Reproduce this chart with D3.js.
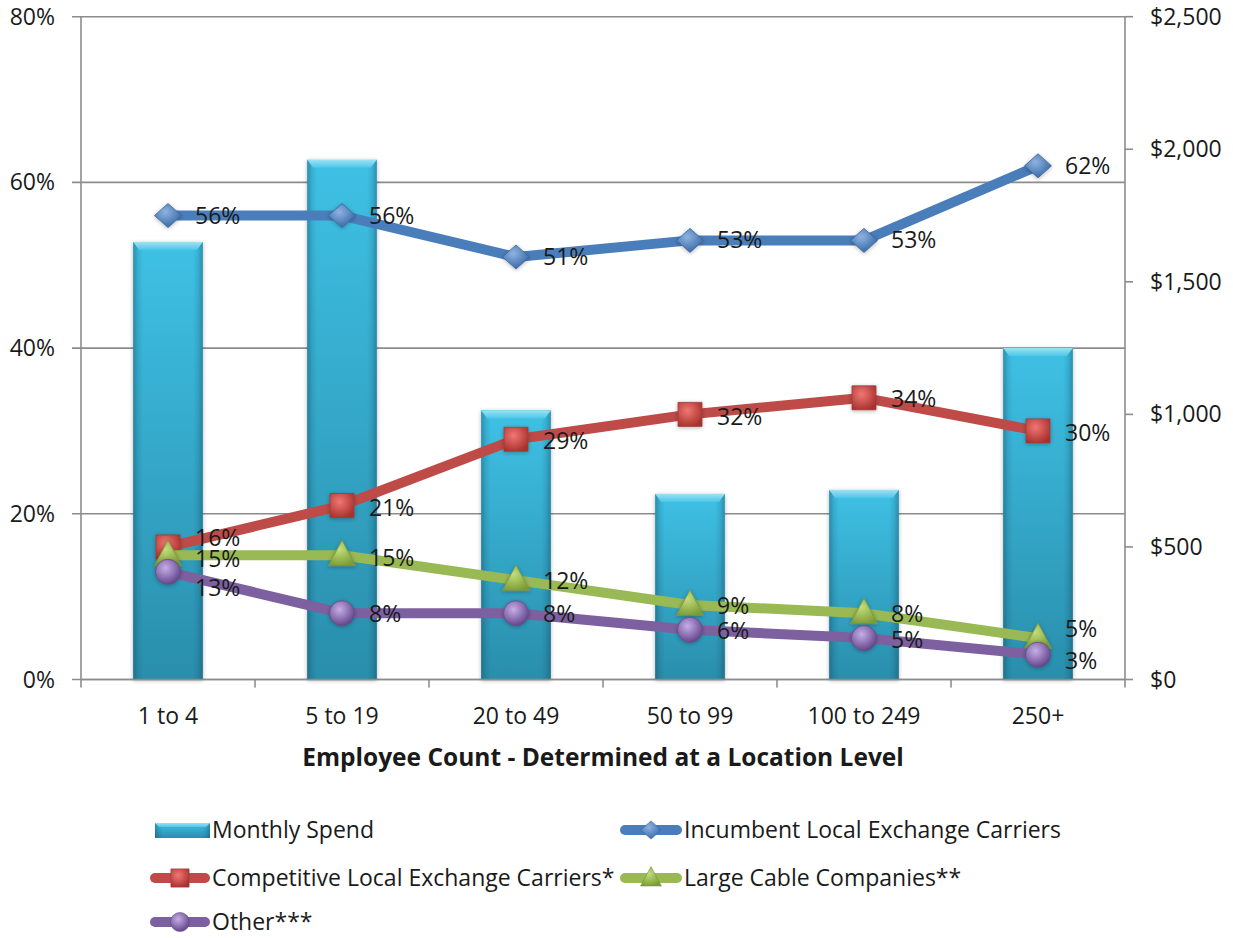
<!DOCTYPE html>
<html>
<head>
<meta charset="utf-8">
<script src="https://cdn.jsdelivr.net/npm/d3@7"></script>
<style>
  html, body { margin: 0; padding: 0; background: #fff; }
  svg { display: block; font-family: "Open Sans", "Liberation Sans", sans-serif; }
</style>
</head>
<body>
<svg id="chart" width="1233" height="938"></svg>
<script>
// ---- data ----
const categories = ["1 to 4", "5 to 19", "20 to 49", "50 to 99", "100 to 249", "250+"];
const monthlySpend = [1650, 1960, 1015, 700, 715, 1250];
const incumbent = [56, 56, 51, 53, 53, 62];
const competitive = [16, 21, 29, 32, 34, 30];
const cable = [15, 15, 12, 9, 8, 5];
const other = [13, 8, 8, 6, 5, 3];
const pctTicks = [0, 20, 40, 60, 80];
const spendTicks = [0, 500, 1000, 1500, 2000, 2500];
const xTitle = "Employee Count - Determined at a Location Level";

// label vertical nudges (px) so overlapping labels stay readable
const labelNudge = {
  incumbent:   [0, 0, 0, 0, 0, 0],
  competitive: [-9, 2, 2, 3, 1, 2],
  cable:       [4, 3, 1, 1, 1, -9],
  other:       [16, 1, 1, 1, 2, 6]
};

const series = [
  { key: "incumbent", name: "Incumbent Local Exchange Carriers", values: incumbent, color: "#4A7EBB", marker: "diamond" },
  { key: "competitive", name: "Competitive Local Exchange Carriers*", values: competitive, color: "#BE4B48", marker: "square" },
  { key: "cable", name: "Large Cable Companies**", values: cable, color: "#98B954", marker: "triangle" },
  { key: "other", name: "Other***", values: other, color: "#7D60A0", marker: "circle" }
];

// ---- layout ----
const plot = { left: 81, right: 1125, top: 16.7, bottom: 679.5 };
const svg = d3.select("#chart");
const defs = svg.append("defs");

const x = d3.scaleBand().domain(categories).range([plot.left, plot.right])
  .paddingInner(0.6).paddingOuter(0.3);
const xc = c => x(c) + x.bandwidth() / 2;
const yL = d3.scaleLinear().domain([0, 80]).range([plot.bottom, plot.top]);
const yR = d3.scaleLinear().domain([0, 2500]).range([plot.bottom, plot.top]);

const gridColor = "#8C8C8C";
const textColor = "#1A1A1A";

// ---- gradients / filters ----
const barGrad = defs.append("linearGradient").attr("id", "barGrad").attr("x1", 0).attr("y1", 0).attr("x2", 0).attr("y2", 1);
barGrad.append("stop").attr("offset", "0%").attr("stop-color", "#3EC1E5");
barGrad.append("stop").attr("offset", "100%").attr("stop-color", "#2A8EAC");
const barEdge = defs.append("linearGradient").attr("id", "barEdge").attr("x1", 0).attr("y1", 0).attr("x2", 1).attr("y2", 0);
[["0%", 0.38], ["7%", 0.12], ["14%", 0], ["86%", 0], ["93%", 0.12], ["100%", 0.38]].forEach(([o, a]) =>
  barEdge.append("stop").attr("offset", o).attr("stop-color", "#0B3D52").attr("stop-opacity", a));
const capGrad = defs.append("linearGradient").attr("id", "capGrad").attr("x1", 0).attr("y1", 0).attr("x2", 0).attr("y2", 1);
capGrad.append("stop").attr("offset", "0%").attr("stop-color", "#9BE2F5");
capGrad.append("stop").attr("offset", "100%").attr("stop-color", "#4CC6E8");

const shadow = defs.append("filter").attr("id", "soft").attr("x", "-20%").attr("y", "-20%").attr("width", "140%").attr("height", "140%");
shadow.append("feGaussianBlur").attr("in", "SourceAlpha").attr("stdDeviation", 2).attr("result", "b");
shadow.append("feOffset").attr("in", "b").attr("dx", 0).attr("dy", 1).attr("result", "o");
shadow.append("feComponentTransfer").attr("in", "o").attr("result", "s")
  .append("feFuncA").attr("type", "linear").attr("slope", 0.3);
const m = shadow.append("feMerge");
m.append("feMergeNode").attr("in", "s");
m.append("feMergeNode").attr("in", "SourceGraphic");

function markerGrad(id, light, dark) {
  const g = defs.append("radialGradient").attr("id", id).attr("cx", "40%").attr("cy", "35%").attr("r", "70%");
  g.append("stop").attr("offset", "0%").attr("stop-color", light);
  g.append("stop").attr("offset", "100%").attr("stop-color", dark);
}
markerGrad("mg-incumbent", "#8DB3E2", "#3565A3");
markerGrad("mg-competitive", "#F07773", "#A8302C");
markerGrad("mg-cable", "#C3DE7C", "#7A9B34");
markerGrad("mg-other", "#C6AEE6", "#5E3F88");

// ---- gridlines ----
const grid = svg.append("g");
grid.selectAll("line").data(pctTicks).join("line")
  .attr("x1", plot.left - 9).attr("x2", plot.right)
  .attr("y1", d => yL(d)).attr("y2", d => yL(d))
  .attr("stroke", gridColor).attr("stroke-width", 1.6);

// ---- bars ----
const bars = svg.append("g").attr("filter", "url(#soft)");
const barG = bars.selectAll("g").data(categories).join("g");
barG.append("rect")
  .attr("x", c => x(c)).attr("width", x.bandwidth())
  .attr("y", (c, i) => yR(monthlySpend[i]))
  .attr("height", (c, i) => yR(0) - yR(monthlySpend[i]))
  .attr("fill", "url(#barGrad)");
barG.append("rect")
  .attr("x", c => x(c)).attr("width", x.bandwidth())
  .attr("y", (c, i) => yR(monthlySpend[i]))
  .attr("height", (c, i) => yR(0) - yR(monthlySpend[i]))
  .attr("fill", "url(#barEdge)");
barG.append("path")
  .attr("d", (c, i) => {
    const x0 = x(c), x1 = x(c) + x.bandwidth(), t = yR(monthlySpend[i]);
    return `M${x0},${t}L${x1},${t}L${x1 - 6},${t + 8}L${x0 + 6},${t + 8}Z`;
  })
  .attr("fill", "url(#capGrad)");

// ---- axes ----
const axes = svg.append("g").attr("stroke", gridColor).attr("stroke-width", 1.6);
axes.append("line").attr("x1", plot.left).attr("x2", plot.left).attr("y1", plot.top).attr("y2", plot.bottom + 8);
axes.append("line").attr("x1", plot.right).attr("x2", plot.right).attr("y1", plot.top).attr("y2", plot.bottom + 8);
axes.append("line").attr("x1", plot.left).attr("x2", plot.right).attr("y1", plot.bottom).attr("y2", plot.bottom);
// x ticks between categories
const bounds = categories.slice(1).map(c => x(c) - x.step() * x.paddingInner() / 2);
axes.selectAll(".xt").data(bounds).join("line").attr("class", "xt")
  .attr("x1", d => d).attr("x2", d => d).attr("y1", plot.bottom).attr("y2", plot.bottom + 8);
// right ticks
axes.selectAll(".rt").data(spendTicks).join("line").attr("class", "rt")
  .attr("x1", plot.right).attr("x2", plot.right + 8)
  .attr("y1", d => yR(d)).attr("y2", d => yR(d));

const tickFont = 23;
svg.append("g").selectAll("text").data(pctTicks).join("text")
  .attr("x", 55).attr("y", d => yL(d)).attr("dy", "0.35em")
  .attr("text-anchor", "end").attr("font-size", tickFont).attr("fill", textColor)
  .text(d => d + "%");
const dollar = d3.format("$,");
svg.append("g").selectAll("text").data(spendTicks).join("text")
  .attr("x", 1150).attr("y", d => yR(d)).attr("dy", "0.35em")
  .attr("text-anchor", "start").attr("font-size", tickFont).attr("fill", textColor)
  .text(d => dollar(d));
svg.append("g").selectAll("text").data(categories).join("text")
  .attr("x", c => xc(c)).attr("y", 716).attr("dy", "0.35em")
  .attr("text-anchor", "middle").attr("font-size", tickFont).attr("fill", textColor)
  .text(c => c);
svg.append("text")
  .attr("x", 603).attr("y", 757).attr("dy", "0.35em")
  .attr("text-anchor", "middle").attr("font-size", 24.5).attr("font-weight", "bold").attr("fill", textColor)
  .text(xTitle);

// ---- markers ----
function markerPath(type, s) {
  switch (type) {
    case "diamond": return `M0,${-s * 0.48}L${s * 0.54},0L0,${s * 0.48}L${-s * 0.54},0Z`;
    case "square": return `M${-s * 0.48},${-s * 0.48}H${s * 0.48}V${s * 0.48}H${-s * 0.48}Z`;
    case "triangle": return `M0,${-s * 0.6}L${s * 0.55},${s * 0.42}L${-s * 0.55},${s * 0.42}Z`;
    default: return d3.arc()({ innerRadius: 0, outerRadius: s * 0.5, startAngle: 0, endAngle: 2 * Math.PI });
  }
}

const line = d3.line().x((d, i) => xc(categories[i])).y(d => yL(d));
const linesG = svg.append("g");
series.forEach(s => {
  const g = linesG.append("g");
  g.append("path").datum(s.values).attr("d", line)
    .attr("fill", "none").attr("stroke", s.color).attr("stroke-width", 10)
    .attr("stroke-linejoin", "round").attr("stroke-linecap", "butt");
  g.selectAll("path.mk").data(s.values).join("path").attr("class", "mk")
    .attr("transform", (d, i) => `translate(${xc(categories[i])},${yL(d)})`)
    .attr("d", markerPath(s.marker, 25))
    .attr("fill", `url(#mg-${s.key})`)
    .attr("stroke", d3.color(s.color).darker(0.6)).attr("stroke-width", 0.8)
    .attr("filter", "url(#soft)");
});

// ---- data labels ----
const labelsG = svg.append("g");
series.forEach(s => {
  labelsG.append("g").selectAll("text").data(s.values).join("text")
    .attr("x", (d, i) => xc(categories[i]) + 27)
    .attr("y", (d, i) => yL(d) + labelNudge[s.key][i]).attr("dy", "0.35em")
    .attr("font-size", tickFont).attr("fill", textColor)
    .text(d => d + "%");
});

// ---- legend ----
const legendFont = 23;
const legendItems = [
  { type: "bar", name: "Monthly Spend", x: 155, y: 830 },
  { type: "line", s: series[0], x: 620, y: 830 },
  { type: "line", s: series[1], x: 150, y: 878 },
  { type: "line", s: series[2], x: 620, y: 878 },
  { type: "line", s: series[3], x: 150, y: 922 }
];
const lg = svg.append("g");
legendItems.forEach(it => {
  const g = lg.append("g").attr("transform", `translate(${it.x},${it.y})`);
  if (it.type === "bar") {
    g.append("rect").attr("x", 0).attr("y", -7).attr("width", 55).attr("height", 15).attr("fill", "url(#barGrad)");
    g.append("rect").attr("x", 0).attr("y", -7).attr("width", 55).attr("height", 15).attr("fill", "url(#barEdge)");
    g.append("path").attr("d", "M0,-7L55,-7L51,-3L4,-3Z").attr("fill", "url(#capGrad)");
    g.append("text").attr("x", 57).attr("y", 0).attr("dy", "0.35em").attr("font-size", legendFont).attr("fill", textColor).text(it.name);
  } else {
    const w = it.x < 400 ? 60 : 62;
    g.append("line").attr("x1", 5).attr("x2", w - 5).attr("y1", 0).attr("y2", 0)
      .attr("stroke", it.s.color).attr("stroke-width", 10).attr("stroke-linecap", "round");
    g.append("path").attr("transform", `translate(${w / 2},0)`)
      .attr("d", markerPath(it.s.marker, 19))
      .attr("fill", `url(#mg-${it.s.key})`)
      .attr("stroke", d3.color(it.s.color).darker(0.6)).attr("stroke-width", 0.6);
    g.append("text").attr("x", w + 2).attr("y", 0).attr("dy", "0.35em").attr("font-size", legendFont).attr("fill", textColor).text(it.s.name);
  }
});
</script>
</body>
</html>
